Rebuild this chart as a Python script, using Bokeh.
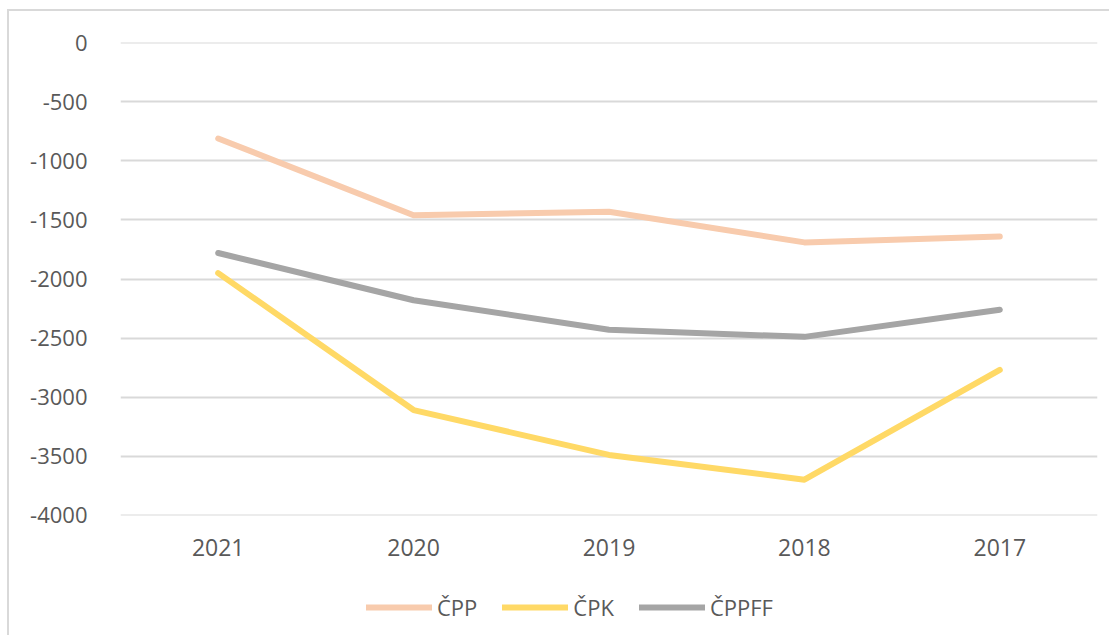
from bokeh.plotting import figure
from bokeh.models import Legend, LegendItem, FixedTicker, Range1d, PrintfTickFormatter
from bokeh.layouts import column
from bokeh.embed import file_html
from bokeh.resources import INLINE

years = ["2021", "2020", "2019", "2018", "2017"]
cpp = [-810, -1460, -1430, -1690, -1640]
cpk = [-1950, -3110, -3490, -3700, -2770]
cppff = [-1780, -2180, -2430, -2490, -2260]
y_ticks = [0, -500, -1000, -1500, -2000, -2500, -3000, -3500, -4000]
series_names = ["ČPP", "ČPK", "ČPPFF"]
series_colors = ["#F8CBAD", "#FFD966", "#A5A5A5"]
series_values = [cpp, cpk, cppff]

FONT = "Open Sans"
TXT = "#595959"
LW = 6

p = figure(x_range=years, y_range=Range1d(-4003, 3), width=1100, height=564,
           output_backend="svg", toolbar_location=None,
           min_border_left=111, min_border_right=12, min_border_top=31, min_border_bottom=60)
p.outline_line_color = None

for vals, col in zip(series_values, series_colors):
    p.line(years, vals, line_color=col, line_width=LW, line_cap="round", line_join="round")

p.yaxis.ticker = FixedTicker(ticks=y_ticks)
p.yaxis.formatter = PrintfTickFormatter(format="%d")
p.xgrid.grid_line_color = None
p.ygrid.grid_line_color = "#d9d9d9"
p.ygrid.grid_line_width = 2
for ax in (p.xaxis, p.yaxis):
    ax.axis_line_color = None
    ax.major_tick_line_color = None
    ax.minor_tick_line_color = None
    ax.major_label_text_font = FONT
    ax.major_label_text_color = TXT
p.yaxis.major_label_text_font_size = "22px"
p.xaxis.major_label_text_font_size = "23px"
p.yaxis.major_label_standoff = 27
p.xaxis.major_label_standoff = 17

# legend strip below the plot (series drawn out of view, only legend visible)
lg = figure(width=1100, height=60, x_range=years, y_range=Range1d(1, 2),
            output_backend="svg", toolbar_location=None,
            min_border_left=111, min_border_right=12, min_border_top=0, min_border_bottom=0)
lg.axis.visible = False
lg.grid.grid_line_color = None
lg.outline_line_color = None
items = []
for name, vals, col in zip(series_names, series_values, series_colors):
    r = lg.line(years, vals, line_color=col, line_width=LW, line_cap="round")
    items.append(LegendItem(label=name, renderers=[r]))
legend = Legend(items=items, orientation="horizontal", location=(246, 13),
                glyph_width=66, glyph_height=20, label_standoff=5, spacing=25,
                label_text_font=FONT, label_text_font_size="22px", label_text_color=TXT,
                border_line_color=None, background_fill_alpha=0, margin=0, padding=0)
lg.add_layout(legend, "center")

layout = column(p, lg, spacing=0,
                styles={"border-left": "2px solid #d9d9d9", "border-top": "2px solid #d9d9d9",
                        "margin-left": "7px", "margin-top": "9px"})
open("out.html", "w").write(file_html(layout, INLINE))
